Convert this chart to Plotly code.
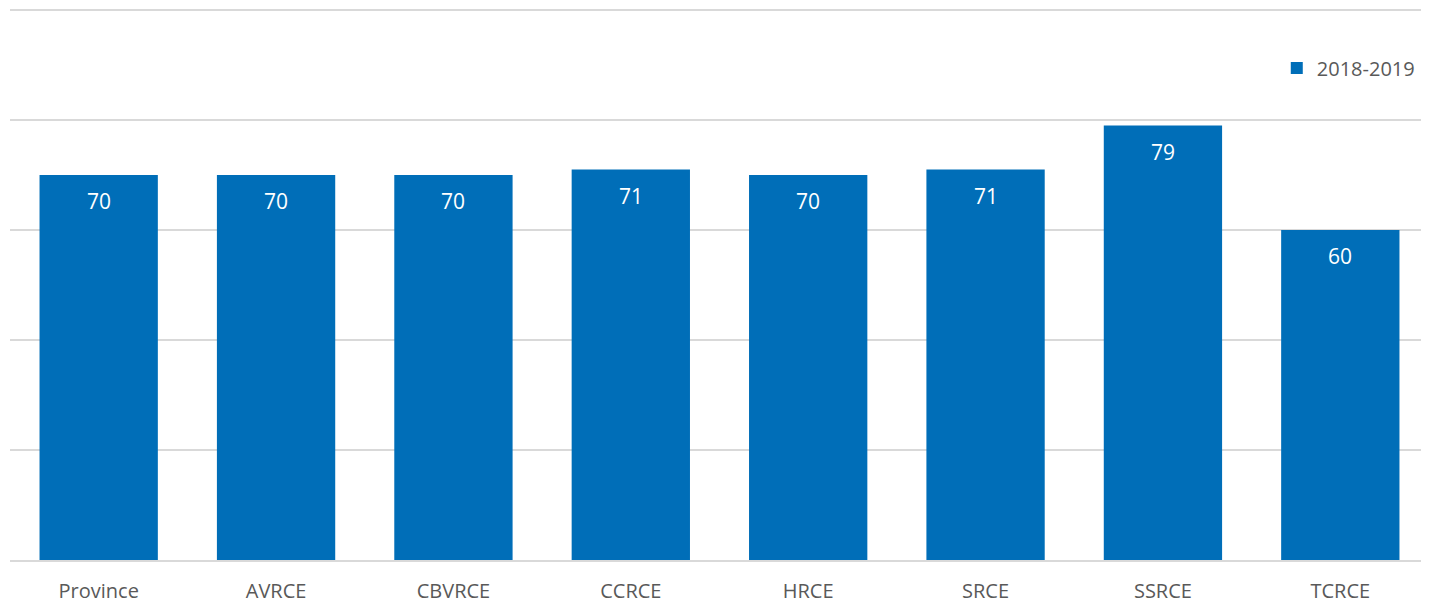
import plotly.graph_objects as go

categories = ["Province", "AVRCE", "CBVRCE", "CCRCE", "HRCE", "SRCE", "SSRCE", "TCRCE"]
values_2018_2019 = [70, 70, 70, 71, 70, 71, 79, 60]
series_name = "2018-2019"

fig = go.Figure()
fig.add_trace(go.Bar(
    x=categories, y=values_2018_2019, name=series_name,
    marker=dict(color="#006EB8", line=dict(width=0)),
    showlegend=True,
))
for c, v in zip(categories, values_2018_2019):
    fig.add_annotation(x=c, y=v, text=str(v), showarrow=False,
                       yanchor="top", yshift=-10,
                       font=dict(color="white", size=21, family="Open Sans"))

fig.update_layout(
    width=1429, height=603,
    margin=dict(l=2, r=8, t=1, b=51, autoexpand=False),
    paper_bgcolor="white", plot_bgcolor="white",
    bargap=0.333,
    font=dict(family="Open Sans", color="#595959", size=20),
    xaxis=dict(showline=True, linecolor="#D9D9D9", linewidth=1.5, ticks="",
               tickfont=dict(size=20, color="#595959"), fixedrange=True,
               automargin=False, ticklabelstandoff=12),
    yaxis=dict(range=[0, 100.2], dtick=20, showticklabels=False, showgrid=True,
               gridcolor="#D9D9D9", gridwidth=1.5, zeroline=False, fixedrange=True,
               automargin=False),
    legend=dict(x=0.9935, xanchor="right", y=0.893, yanchor="middle",
                font=dict(size=20, color="#595959"), itemwidth=30,
                bgcolor="rgba(0,0,0,0)"),
)
fig.write_html("out.html")
